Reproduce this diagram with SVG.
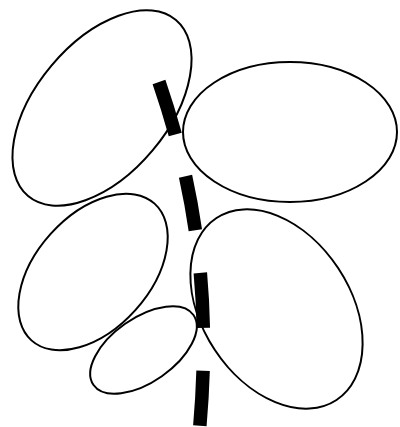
<svg xmlns="http://www.w3.org/2000/svg" width="400" height="427" viewBox="0 0 400 427">
<style>
.node ellipse{fill:none;stroke:#000;stroke-width:2}
.conn{fill:none;stroke:#000;stroke-width:13.5;stroke-dasharray:55 43}
</style>
<rect width="400" height="427" fill="#fff"/>
<g id="node1" class="node"><ellipse cx="102" cy="108" rx="115" ry="66" transform="rotate(-50 102 108)"/></g>
<g id="node2" class="node"><ellipse cx="290" cy="132" rx="107" ry="70"/></g>
<g id="node3" class="node"><ellipse cx="93" cy="272" rx="92" ry="57" transform="rotate(-48 93 272)"/></g>
<g id="node4" class="node"><ellipse cx="143.5" cy="350" rx="61" ry="32" transform="rotate(-35 143.5 350)"/></g>
<g id="node5" class="node"><ellipse cx="276.5" cy="309" rx="109" ry="74" transform="rotate(56.6 276.5 309)"/></g>
<g id="connectors">
<path class="conn" d="M159,82 C196,190 212,300 199,435"/>
</g>
</svg>
